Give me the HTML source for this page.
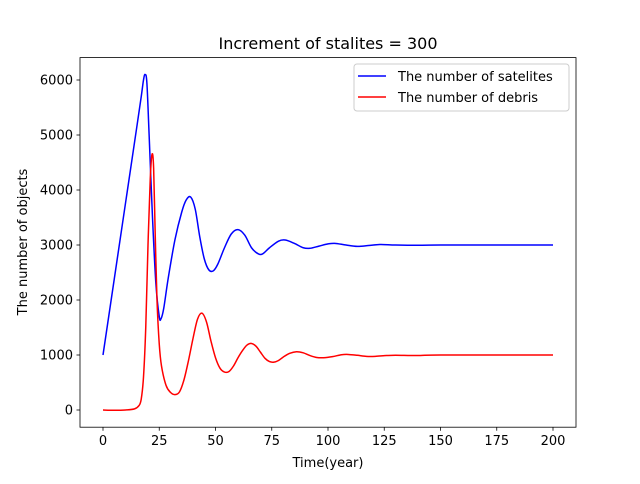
<!DOCTYPE html>
<html><head><meta charset="utf-8"><style>
body{margin:0;background:#fff;font-family:"DejaVu Sans","Liberation Sans",sans-serif}
svg text{font-family:"DejaVu Sans","Liberation Sans",sans-serif}
</style></head><body>
<svg id="chart" width="640" height="480" xmlns="http://www.w3.org/2000/svg">
<rect width="640" height="480" fill="#fff"/>
<text x="328" y="49" text-anchor="middle" font-size="16">Increment of stalites = 300</text>
<g id="plot"></g>
<g>
<rect x="354" y="64" width="215" height="47" fill="#fff" stroke="#ccc" rx="3"/>
<line x1="358" y1="76" x2="386" y2="76" stroke="blue" stroke-width="1.5"/>
<text x="398" y="81" font-size="13">The number of satelites</text>
<line x1="358" y1="97" x2="386" y2="97" stroke="red" stroke-width="1.5"/>
<text x="398" y="102" font-size="13">The number of debris</text>
</g>
<text x="328" y="467" text-anchor="middle" font-size="13">Time(year)</text>
<text transform="translate(27,242) rotate(-90)" text-anchor="middle" font-size="13">The number of objects</text>
</svg>
<script>
const xTicks=[0,25,50,75,100,125,150,175,200];
const yTicks=[0,1000,2000,3000,4000,5000,6000];
const satT=[0,5,10,15,17,18,18.7,19.5,20.5,22,23.5,25,25.8,27,29,32,35,37,39,41,43,45,47,49,51,54,57,60,63,66,69,71,74,78,81,85,89,92,96,100,103,108,113,118,123,130,140,150,200];
const satV=[1000,2380,3760,5140,5700,6000,6100,5950,5000,3500,2300,1700,1660,1850,2400,3100,3600,3820,3870,3650,3150,2750,2550,2530,2650,2950,3200,3280,3180,2950,2840,2840,2950,3070,3090,3030,2950,2940,2980,3020,3030,3000,2975,2990,3010,3000,2995,3000,3000];
const debT=[0,5,10,14,16,17,18,19,20,21,21.8,22.5,23.2,24,25,26,28,30,32,34,36,38,40,42,44,46,48,50,52,54,56,58,60,62,64,66,68,70,72,74,76,78,80,83,86,89,92,95,98,102,106,109,113,117,121,126,130,140,150,200];
const debV=[0,-5,0,20,80,200,600,1500,3000,4200,4650,4400,3200,2000,1200,800,450,320,280,330,550,900,1300,1650,1760,1600,1250,950,760,690,700,800,950,1080,1180,1210,1160,1050,940,880,870,900,960,1030,1060,1040,990,955,950,970,1005,1010,995,975,975,990,995,990,1000,1000];
const X=t=>103+t*2.25, Y=v=>410-v*0.055;
const ns="http://www.w3.org/2000/svg", g=document.getElementById('plot');
function mk(tag,a){const e=document.createElementNS(ns,tag);for(const k in a)e.setAttribute(k,a[k]);g.appendChild(e);return e;}
function line(T,V,c,name){
 const P=T.map((t,i)=>[X(t),Y(V[i])]);
 let d='M'+P[0][0]+','+P[0][1];
 for(let i=0;i<P.length-1;i++){
  const p0=P[Math.max(0,i-1)],p1=P[i],p2=P[i+1],p3=P[Math.min(P.length-1,i+2)];
  const k=1/6;
  d+=' C'+(p1[0]+(p2[0]-p0[0])*k)+','+(p1[1]+(p2[1]-p0[1])*k)+' '+(p2[0]-(p3[0]-p1[0])*k)+','+(p2[1]-(p3[1]-p1[1])*k)+' '+p2[0]+','+p2[1];
 }
 const e=mk('path',{d:d,fill:'none',stroke:c,'stroke-width':1.5});
 
 }
line(satT,satV,'blue','satellites-line');
line(debT,debV,'red','debris-line');
const ax=mk('rect',{x:80,y:57.6,width:496,height:369.6,fill:'none',stroke:'#000','stroke-width':0.8});


xTicks.forEach(t=>{mk('line',{x1:X(t),x2:X(t),y1:427.2,y2:430.7,stroke:'#000','stroke-width':0.8});
const tx=mk('text',{x:X(t),y:445,'text-anchor':'middle','font-size':13});tx.textContent=t;

});
yTicks.forEach(v=>{mk('line',{x1:76.5,x2:80,y1:Y(v),y2:Y(v),stroke:'#000','stroke-width':0.8});
const tx=mk('text',{x:73,y:Y(v)+4.5,'text-anchor':'end','font-size':13});tx.textContent=v;

});
</script>
</body></html>
